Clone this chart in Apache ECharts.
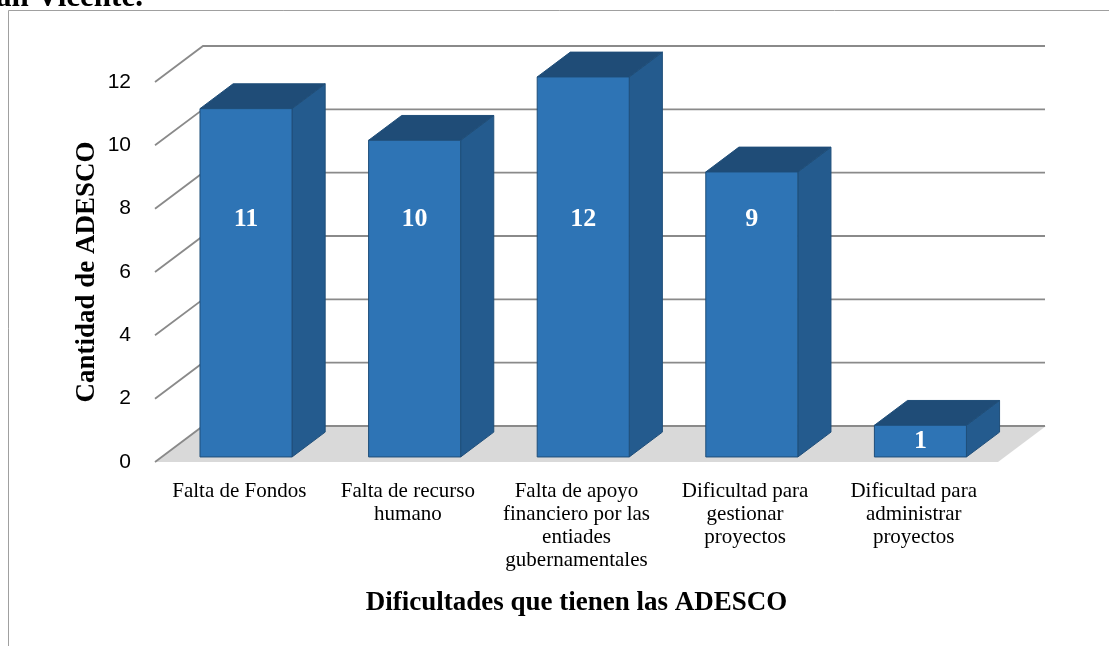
<!DOCTYPE html>
<html><head><meta charset="utf-8">
<script src="https://cdn.jsdelivr.net/npm/echarts@6/dist/echarts.min.js"></script>
<style>html,body{margin:0;padding:0;background:#fff}#c{width:1109px;height:646px}</style>
</head><body><div id="c"></div>
<script>
const categories = ['Falta de Fondos', 'Falta de recurso\nhumano', 'Falta de apoyo\nfinanciero por las\nentiades\ngubernamentales', 'Dificultad para\ngestionar\nproyectos', 'Dificultad para\nadministrar\nproyectos'];
const values = [11, 10, 12, 9, 1];
const yTicks = [0, 2, 4, 6, 8, 10, 12];
const yAxisTitle = 'Cantidad de ADESCO';
const xAxisTitle = 'Dificultades que tienen las ADESCO';
const titleFragment = 'an Vicente.';

const DX = 48, DY = -36;      // depth projection of the 3D box
const F0 = 0.14, F1 = 0.83;   // bar position inside depth
const BAR_FRAC = 0.546;
const SERIF = '"Liberation Serif", "Times New Roman", serif';
const SANS = '"Liberation Sans", Arial, sans-serif';

function renderGrid(params, api) {
  const cs = params.coordSys;
  const y = api.coord([0, api.value(1)])[1];
  const x0 = cs.x, x1 = cs.x + cs.width;
  const children = [];
  if (api.value(1) === 0) {
    children.push({type: 'polygon', shape: {points: [[x0, y], [x1, y], [x1 + DX, y + DY], [x0 + DX, y + DY]]},
      style: {fill: '#D9D9D9'}});
  }
  children.push({type: 'polyline', shape: {points: [[x0, y], [x0 + DX, y + DY], [x1 + DX - 1, y + DY]]},
    style: {stroke: '#8a8a8a', lineWidth: 1.8, fill: 'none'}});
  return {type: 'group', children};
}

function renderBar(params, api) {
  const i = api.value(0), v = api.value(1);
  const p0 = api.coord([i, 0]), pv = api.coord([i, v]);
  const bw = api.size([1, 0])[0] * BAR_FRAC;
  const ox = F0 * DX, oy = F0 * DY, bdx = (F1 - F0) * DX, bdy = (F1 - F0) * DY;
  const xL = p0[0] - bw / 2 + ox, xR = xL + bw, yB = p0[1] + oy, yT = pv[1] + oy;
  const lv = v >= 7.5 ? 7.5 : v / 2;
  const ly = api.coord([i, lv])[1] + oy;
  const edge = '#1F4E79';
  return {type: 'group', children: [
    {type: 'polygon', shape: {points: [[xR, yT], [xR, yB], [xR + bdx, yB + bdy], [xR + bdx, yT + bdy]]},
      style: {fill: '#245B8E', stroke: edge, lineWidth: 1}},
    {type: 'polygon', shape: {points: [[xL, yT], [xR, yT], [xR + bdx, yT + bdy], [xL + bdx, yT + bdy]]},
      style: {fill: '#1F4C77', stroke: edge, lineWidth: 1}},
    {type: 'rect', shape: {x: xL, y: yT, width: bw, height: yB - yT},
      style: {fill: '#2E74B5', stroke: edge, lineWidth: 1}},
    {type: 'text', x: xL + bw / 2, y: ly, style: {text: String(v), fill: '#fff',
      font: 'bold 26px ' + SERIF, align: 'center', verticalAlign: 'middle'}}
  ]};
}

const chart = echarts.init(document.getElementById('c'), null, {renderer: 'canvas'});
chart.setOption({
  animation: false,
  backgroundColor: '#fff',
  grid: {left: 155, top: 82, width: 843, height: 380, containLabel: false},
  xAxis: {
    type: 'category', data: categories,
    axisLine: {show: false}, axisTick: {show: false}, splitLine: {show: false},
    axisLabel: {interval: 0, margin: 18, fontFamily: SERIF, fontSize: 21, lineHeight: 23, color: '#000'},
    name: xAxisTitle, nameLocation: 'middle', nameGap: 128,
    nameTextStyle: {fontFamily: SERIF, fontWeight: 'bold', fontSize: 27, color: '#000'}
  },
  yAxis: {
    type: 'value', min: 0, max: 12, interval: 2,
    axisLine: {show: false}, axisTick: {show: false}, splitLine: {show: false},
    axisLabel: {margin: 24, fontFamily: SANS, fontSize: 21, color: '#000'},
    name: yAxisTitle, nameLocation: 'middle', nameGap: 54, nameRotate: 90, nameMoveOverlap: false,
    nameTextStyle: {fontFamily: SERIF, fontWeight: 'bold', fontSize: 27, color: '#000'}
  },
  graphic: [
    {type: 'rect', shape: {x: 8.5, y: 10.5, width: 1120, height: 700}, style: {fill: 'none', stroke: '#a0a0a0', lineWidth: 1}, z: -10},
    {type: 'text', x: -4, y: -2, style: {text: titleFragment, font: 'bold 31px ' + SERIF, fill: '#000', verticalAlign: 'middle'}}
  ],
  series: [
    {type: 'custom', name: 'grid', renderItem: renderGrid, data: yTicks.map(t => [0, t]), silent: true, z: 1},
    {type: 'custom', name: 'bars', renderItem: renderBar, data: values.map((v, i) => [i, v]), z: 2}
  ]
});
</script></body></html>
